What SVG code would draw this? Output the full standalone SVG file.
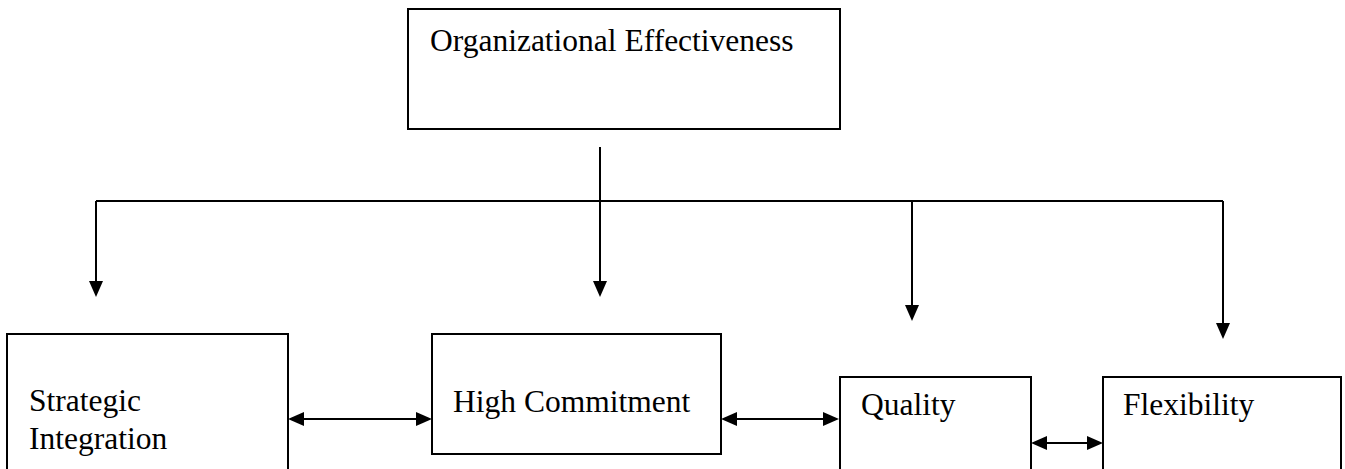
<svg xmlns="http://www.w3.org/2000/svg" width="1345" height="469" viewBox="0 0 1345 469">
<style>
.box{fill:#fff;stroke:#000;stroke-width:2}
.lbl{font-family:"Liberation Serif","Times New Roman",serif;font-size:31.5px;fill:#000}
.con{fill:none;stroke:#000;stroke-width:2}
</style>
<defs>
<marker id="ah" markerUnits="userSpaceOnUse" markerWidth="16" markerHeight="16" viewBox="0 0 16 14" refX="13" refY="7" orient="auto-start-reverse">
<path d="M0,0 L16,7 L0,14 z" fill="#000"/>
</marker>
</defs>
<rect width="1345" height="469" fill="#fff"/>
<g id="n-org">
<rect class="box" x="408" y="9" width="432" height="120"/>
<text class="lbl" x="430" y="51">Organizational Effectiveness</text>
</g>
<g id="n-strategic">
<rect class="box" x="7" y="334" width="281" height="150"/>
<text class="lbl" x="29" y="411">Strategic</text>
<text class="lbl" x="29" y="449">Integration</text>
</g>
<g id="n-high">
<rect class="box" x="432" y="334" width="289" height="120"/>
<text class="lbl" x="453" y="412">High Commitment</text>
</g>
<g id="n-quality">
<rect class="box" x="840" y="377" width="191" height="110"/>
<text class="lbl" x="861" y="415">Quality</text>
</g>
<g id="n-flex">
<rect class="box" x="1103" y="377" width="238" height="110"/>
<text class="lbl" x="1123" y="415">Flexibility</text>
</g>
<g id="connectors">
<path class="con" d="M96,201 H1223"/>
<path class="con" d="M600,147 V294" marker-end="url(#ah)"/>
<path class="con" d="M96,201 V294" marker-end="url(#ah)"/>
<path class="con" d="M912,201 V318" marker-end="url(#ah)"/>
<path class="con" d="M1223,201 V336" marker-end="url(#ah)"/>
<path class="con" d="M291,419 H429" marker-start="url(#ah)" marker-end="url(#ah)"/>
<path class="con" d="M724,419 H836" marker-start="url(#ah)" marker-end="url(#ah)"/>
<path class="con" d="M1034,443 H1100" marker-start="url(#ah)" marker-end="url(#ah)"/>
</g>
</svg>
